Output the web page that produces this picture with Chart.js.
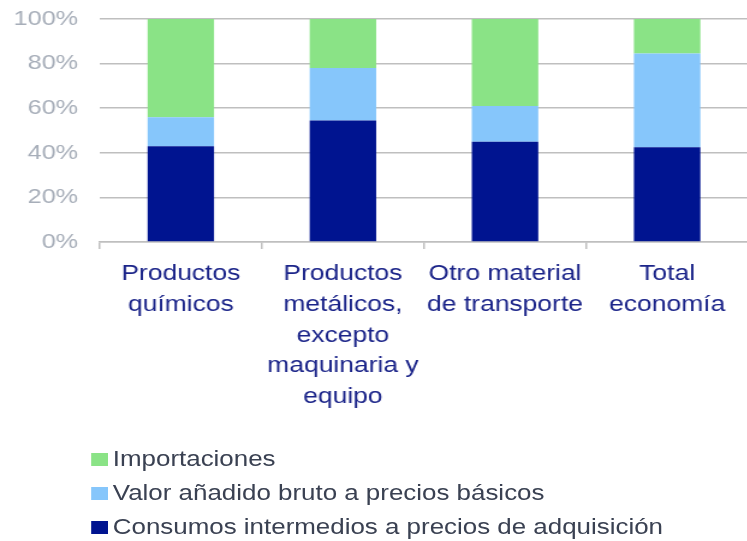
<!DOCTYPE html>
<html>
<head>
<meta charset="utf-8">
<script src="https://cdn.jsdelivr.net/npm/chart.js@4/dist/chart.umd.min.js"></script>
<style>
  html, body { margin: 0; padding: 0; background: #fff; overflow: hidden; }
  #wrap { position: absolute; left: 0; top: 0; width: 622.5px; height: 541px; transform: scaleX(1.2); transform-origin: 0 0; }
  #box { position: absolute; left: 0; top: 0; width: 622.5px; height: 426px; }
  #legend { position: absolute; left: 76px; top: 442px; font-family: "Liberation Sans", Arial, sans-serif; font-size: 21.6px; color: #3a4152; }
  .row { height: 34px; line-height: 34px; display: flex; align-items: center; white-space: nowrap; }
  .sw { width: 14px; height: 13px; margin-right: 4px; display: inline-block; }
</style>
</head>
<body>
<div id="wrap">
  <div id="box"><canvas id="c"></canvas></div>
  <div id="legend"></div>
</div>
<script>
const categories = [
  ["Productos", "químicos"],
  ["Productos", "metálicos,", "excepto", "maquinaria y", "equipo"],
  ["Otro material", "de transporte"],
  ["Total", "economía"]
];
const seriesNames = [
  "Consumos intermedios a precios de adquisición",
  "Valor añadido bruto a precios básicos",
  "Importaciones"
];
const consumos = [43, 54.5, 45, 42.5];
const valorAnadido = [13, 23.5, 16, 42];
const importaciones = [44, 22, 39, 15.5];
const yTicks = [0, 20, 40, 60, 80, 100];

const colors = ["#001490", "#86c6fb", "#8ae386"];
const font = "'Liberation Sans', Arial, sans-serif";

const chart = new Chart(document.getElementById("c"), {
  type: "bar",
  data: {
    labels: categories,
    datasets: [
      { label: seriesNames[0], data: consumos, backgroundColor: colors[0] },
      { label: seriesNames[1], data: valorAnadido, backgroundColor: colors[1] },
      { label: seriesNames[2], data: importaciones, backgroundColor: colors[2] }
    ]
  },
  options: {
    responsive: true,
    maintainAspectRatio: false,
    animation: false,
    layout: { padding: { top: 19, left: 11, right: 0, bottom: 4 } },
    datasets: { bar: { barPercentage: 0.41, categoryPercentage: 1, borderWidth: 0 } },
    plugins: { legend: { display: false }, tooltip: { enabled: false } },
    scales: {
      x: {
        stacked: true,
        grid: { drawOnChartArea: false, drawTicks: true, tickLength: 7, color: "#bfbfbf", lineWidth: 1.5, offset: true },
        border: { display: true, color: "#bfbfbf", width: 1.5 },
        ticks: { color: "#1b2489", padding: 10, maxRotation: 0, autoSkip: false, font: { family: font, size: 22, lineHeight: 1.39 } },
        afterFit: (s) => { s.paddingLeft = 0; s.paddingRight = 0; }
      },
      y: {
        stacked: true,
        min: 0, max: 100,
        afterBuildTicks: (s) => { s.ticks = yTicks.map(v => ({ value: v })); },
        afterFit: (s) => { s.width = 72; s.paddingTop = 0; s.paddingBottom = 0; },
        grid: { drawTicks: false, color: "#bfbfbf", lineWidth: 1.5 },
        border: { display: false },
        ticks: { color: "#a7aeb9", padding: 18, font: { family: font, size: 21 }, callback: (v) => v + "%" }
      }
    }
  }
});

const legend = document.getElementById("legend");
chart.data.datasets.slice().reverse().forEach(ds => {
  const row = document.createElement("div");
  row.className = "row";
  const sw = document.createElement("span");
  sw.className = "sw";
  sw.style.background = ds.backgroundColor;
  const tx = document.createElement("span");
  tx.textContent = ds.label;
  row.appendChild(sw);
  row.appendChild(tx);
  legend.appendChild(row);
});
</script>
</body>
</html>
